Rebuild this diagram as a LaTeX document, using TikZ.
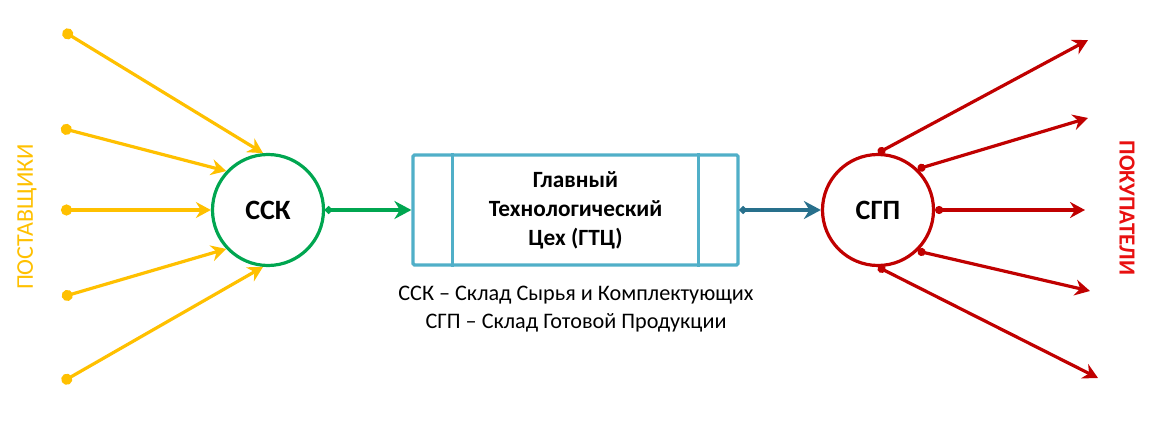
\documentclass[tikz,border=0pt]{standalone}
\usepackage{fontspec}
\setmainfont{Carlito}
\usetikzlibrary{arrows.meta}
\definecolor{supyellow}{RGB}{255,192,0}
\definecolor{sskgreen}{RGB}{0,166,80}
\definecolor{gtcblue}{RGB}{80,175,200}
\definecolor{flowblue}{RGB}{40,112,140}
\definecolor{sgpred}{RGB}{192,0,0}
\definecolor{buytext}{RGB}{232,16,16}

\begin{document}
\begin{tikzpicture}[x=1pt,y=-1pt,
  supplyline/.style={line width=3.2pt,supyellow,{Circle[length=11pt]}-{Stealth[length=15pt,width=16pt,inset=5pt]}},
  buyline/.style={line width=3.2pt,sgpred,{Circle[length=8pt]}-{Stealth[length=15pt,width=16pt,inset=5pt]}},
  store/.style={circle,draw,line width=3.2pt,minimum size=111pt,inner sep=0pt,font=\bfseries\fontsize{28}{28}\selectfont}]
\useasboundingbox (0,0) rectangle (1158,427);
\node[store,draw=sskgreen] (ssk) at (268,210) {ССК};
\node[store,draw=sgpred] (sgp) at (878,210) {СГП};
\node[draw=gtcblue,line width=3.2pt,minimum width=325pt,minimum height=110pt,rounded corners=1.5pt,
  align=center,font=\bfseries\fontsize{23.3}{29}\selectfont] (gtc) at (575.5,210) {Главный\\Технологический\\Цех (ГТЦ)};
\draw[gtcblue,line width=3.2pt] ([xshift=41pt]gtc.north west) -- ([xshift=41pt]gtc.south west);
\draw[gtcblue,line width=3.2pt] ([xshift=-41pt]gtc.north east) -- ([xshift=-41pt]gtc.south east);
% suppliers and buyers
\foreach \n/\x/\y in {1/63/31,2/61/128,3/61/210,4/62/297,5/62/382}
\coordinate (s\n) at (\x,\y);
\foreach \n/\x/\y in {1/1088/40,2/1088/118,3/1085/210,4/1090/291,5/1098/378}
\coordinate (c\n) at (\x,\y);
\foreach \n/\a in {1/95,2/137,3/180,4/223,5/265}
\draw[supplyline] (s\n) -- (ssk.\a);
\foreach \n/\a in {1/90,2/46,3/0,4/-46,5/-90}
\draw[buyline] (sgp.\a) -- (c\n);
\draw[sskgreen,line width=3.2pt,{Circle[length=7pt]}-{Stealth[length=17pt,width=18pt,inset=5.5pt]}] (ssk.east) -- (gtc.west);
\draw[flowblue,line width=3.2pt,{Circle[length=7pt]}-{Stealth[length=17pt,width=18pt,inset=5.5pt]}] (gtc.east) -- (sgp.west);
\node[anchor=base,font=\fontsize{22.2}{27}\selectfont] (leg1) at (576,301) {ССК – Склад Сырья и Комплектующих};
\node[anchor=base,font=\fontsize{22.2}{27}\selectfont] (leg2) at (576,328) {СГП – Склад Готовой Продукции};
\node[rotate=90,text=supyellow,font=\fontsize{24}{24}\selectfont] (postav) at (27,217) {ПОСТАВЩИКИ};
\node[rotate=-90,text=buytext,font=\bfseries\fontsize{23}{23}\selectfont] (pokup) at (1127,208) {ПОКУПАТЕЛИ};
\end{tikzpicture}
\end{document}
